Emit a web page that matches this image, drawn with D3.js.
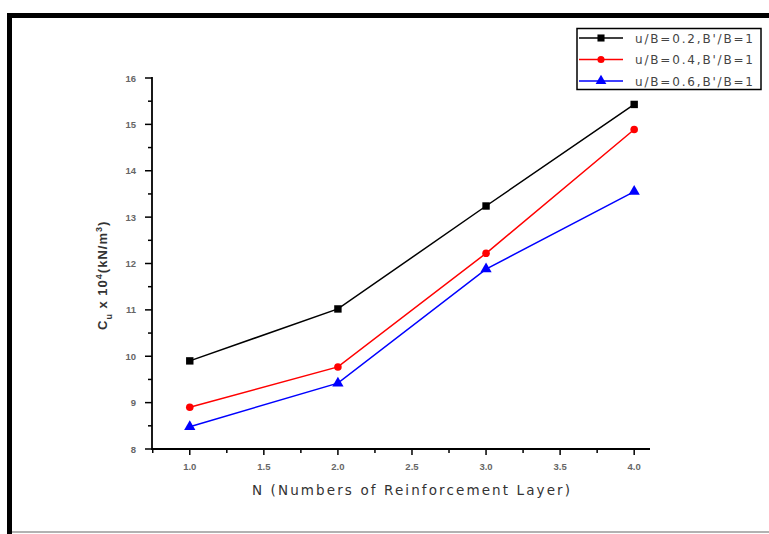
<!DOCTYPE html>
<html>
<head>
<meta charset="utf-8">
<script src="https://cdn.jsdelivr.net/npm/d3@7"></script>
<style>
  body { margin: 0; background: #fff; }
  svg { display: block; font-family: "Liberation Sans", Arial, sans-serif; }
</style>
</head>
<body>
<div id="chart"></div>
<script>
// Datos
var layers = [1, 2, 3, 4];
var serieNames = ["u/B=0.2,B'/B=1", "u/B=0.4,B'/B=1", "u/B=0.6,B'/B=1"];
var serieA = [9.9, 11.02, 13.24, 15.43];
var serieB = [8.9, 9.77, 12.22, 14.89];
var serieC = [8.48, 9.42, 11.88, 13.55];
var xTicks = [1.0, 1.5, 2.0, 2.5, 3.0, 3.5, 4.0];
var yTicks = [8, 9, 10, 11, 12, 13, 14, 15, 16];

var colores = ["#000000", "#ff0000", "#0000ff"];
var simbolos = [d3.symbolSquare, d3.symbolCircle, d3.symbolTriangle];
var series = [serieA, serieB, serieC];

var svgWidth = 769;
var svgHeight = 534;

var svg = d3.select("#chart")
  .append("svg")
  .attr("width", svgWidth)
  .attr("height", svgHeight);

// Marco de la figura
svg.append("rect")
  .attr("x", 0).attr("y", 0)
  .attr("width", svgWidth).attr("height", svgHeight)
  .attr("fill", "#fff");
svg.append("line")
  .attr("x1", 9.5).attr("x2", 9.5).attr("y1", 13).attr("y2", 534)
  .attr("stroke", "#000").attr("stroke-width", 5);
svg.append("line")
  .attr("x1", 7).attr("x2", 769).attr("y1", 15.5).attr("y2", 15.5)
  .attr("stroke", "#000").attr("stroke-width", 5);
svg.append("line")
  .attr("x1", 12).attr("x2", 769).attr("y1", 532).attr("y2", 532)
  .attr("stroke", "#999").attr("stroke-width", 1.5);

// Escalas
var x = d3.scaleLinear().domain([0.745, 4.1]).range([152, 649]);
var y = d3.scaleLinear().domain([8, 16]).range([449, 78]);

// Ejes (ticks mayores y menores)
var xMinor = d3.range(0.75, 4.1, 0.25);
svg.append("g").selectAll("line").data(xMinor).enter().append("line")
  .attr("x1", function(d){ return x(d); }).attr("x2", function(d){ return x(d); })
  .attr("y1", 449).attr("y2", function(d){ return (d % 0.5 === 0) ? 455 : 453; })
  .attr("stroke", "#000").attr("stroke-width", 1.5);

var yMinor = d3.range(8, 16.01, 0.5);
svg.append("g").selectAll("line").data(yMinor).enter().append("line")
  .attr("y1", function(d){ return y(d); }).attr("y2", function(d){ return y(d); })
  .attr("x1", 152).attr("x2", function(d){ return (d % 1 === 0) ? 145 : 148; })
  .attr("stroke", "#000").attr("stroke-width", 1.5);

svg.append("line")
  .attr("x1", 152).attr("x2", 650).attr("y1", 449).attr("y2", 449)
  .attr("stroke", "#000").attr("stroke-width", 1.8);
svg.append("line")
  .attr("x1", 152).attr("x2", 152).attr("y1", 450).attr("y2", 77)
  .attr("stroke", "#000").attr("stroke-width", 1.8);

svg.append("g").selectAll("text").data(xTicks).enter().append("text")
  .attr("x", function(d){ return x(d); })
  .attr("y", 470)
  .attr("text-anchor", "middle")
  .attr("font-size", 9.5)
  .attr("font-weight", "bold")
  .attr("fill", "#666")
  .text(function(d){ return d.toFixed(1); });

svg.append("g").selectAll("text").data(yTicks).enter().append("text")
  .attr("x", 136)
  .attr("y", function(d){ return y(d) + 3.5; })
  .attr("text-anchor", "end")
  .attr("font-size", 9.5)
  .attr("font-weight", "bold")
  .attr("fill", "#666")
  .text(function(d){ return d; });

// Titulos de ejes
svg.append("text")
  .attr("x", 252).attr("y", 495)
  .attr("textLength", 318)
  .attr("lengthAdjust", "spacing")
  .attr("font-family", "DejaVu Sans")
  .attr("font-size", 13.5)
  .attr("fill", "#333")
  .text("N (Numbers of Reinforcement Layer)");

var yTitle = svg.append("text")
  .attr("transform", "translate(107,330) rotate(-90)")
  .attr("font-size", 13)
  .attr("font-weight", "bold")
  .attr("letter-spacing", 1)
  .attr("fill", "#333");
yTitle.append("tspan").text("C");
yTitle.append("tspan").attr("dy", 5).attr("font-size", 9).text("u");
yTitle.append("tspan").attr("dy", -5).text(" x 10");
yTitle.append("tspan").attr("dy", -5).attr("font-size", 9).text("4");
yTitle.append("tspan").attr("dy", 5).text("(kN/m");
yTitle.append("tspan").attr("dy", -5).attr("font-size", 9).text("3");
yTitle.append("tspan").attr("dy", 5).text(")");

// Series
var linea = d3.line()
  .x(function(d, i){ return x(layers[i]); })
  .y(function(d){ return y(d); });

series.forEach(function(serie, s) {
  svg.append("path")
    .datum(serie)
    .attr("d", linea)
    .attr("fill", "none")
    .attr("stroke", colores[s])
    .attr("stroke-width", 1.5);
  svg.append("g").selectAll("path").data(serie).enter().append("path")
    .attr("transform", function(d, i){ return "translate(" + x(layers[i]) + "," + y(d) + ")"; })
    .attr("d", d3.symbol().type(simbolos[s]).size(s === 1 ? 45 : 55))
    .attr("fill", colores[s]);
});

// Leyenda
var leyenda = svg.append("g");
leyenda.append("rect")
  .attr("x", 577).attr("y", 28.5)
  .attr("width", 184).attr("height", 61)
  .attr("fill", "#fff").attr("stroke", "#000").attr("stroke-width", 1.5);
serieNames.forEach(function(nombre, s) {
  var yy = 38 + s * 21.5;
  leyenda.append("line")
    .attr("x1", 579).attr("x2", 623).attr("y1", yy).attr("y2", yy)
    .attr("stroke", colores[s]).attr("stroke-width", 1.5);
  leyenda.append("path")
    .attr("transform", "translate(601," + yy + ")")
    .attr("d", d3.symbol().type(simbolos[s]).size(s === 1 ? 40 : 50))
    .attr("fill", colores[s]);
  leyenda.append("text")
    .attr("x", 635).attr("y", yy + 4.5)
    .attr("textLength", 118)
    .attr("lengthAdjust", "spacing")
    .attr("font-family", "DejaVu Sans")
    .attr("font-size", 12)
    .attr("fill", "#444")
    .text(nombre);
});
</script>
</body>
</html>
